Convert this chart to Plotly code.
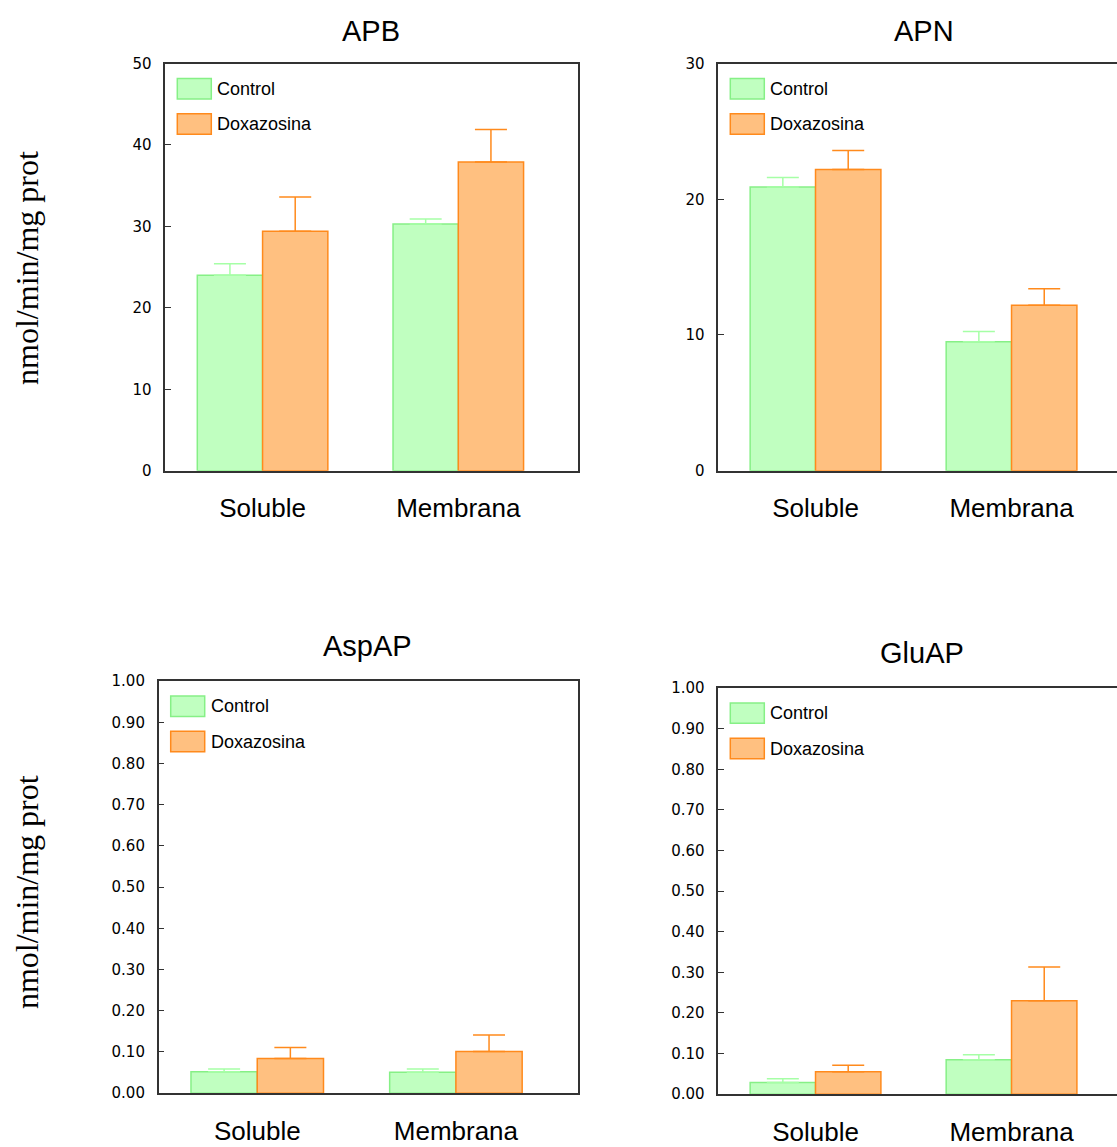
import plotly.graph_objects as go

W, H = 1117, 1147

# ---------------- data ----------------
categories = ["Soluble", "Membrana"]
series_names = ["Control", "Doxazosina"]
panel_titles = ["APB", "APN", "AspAP", "GluAP"]
y_label = "nmol/min/mg prot"

apb_control = [24.0, 30.3]
apb_control_err = [1.4, 0.6]
apb_doxa = [29.4, 37.9]
apb_doxa_err = [4.2, 4.0]

apn_control = [20.9, 9.5]
apn_control_err = [0.7, 0.75]
apn_doxa = [22.2, 12.2]
apn_doxa_err = [1.4, 1.2]

aspap_control = [0.052, 0.051]
aspap_control_err = [0.007, 0.008]
aspap_doxa = [0.084, 0.101]
aspap_doxa_err = [0.027, 0.040]

gluap_control = [0.029, 0.085]
gluap_control_err = [0.009, 0.012]
gluap_doxa = [0.055, 0.230]
gluap_doxa_err = [0.016, 0.083]

# ---------------- styles ----------------
GREEN_FILL = "#C0FFC0"
GREEN_LINE = "#86F086"
GREEN_ERR = "#A6FFA6"
ORANGE_FILL = "#FFC080"
ORANGE_LINE = "#FF8A1C"
ORANGE_ERR = "#FF8A1C"
FRAME = "#333333"

SANS = "Liberation Sans, Arial, sans-serif"
TICKFONT = "DejaVu Sans, sans-serif"
SERIF = "Liberation Serif, Times New Roman, serif"

# vertical calibration of the viewer (page top offset / scale observed in the capture)
VIEW_Y_OFF = 7.9
VIEW_Y_SCALE = 0.9835

def fx(px):
    return px / W

def fy(py):
    py_adj = (py - VIEW_Y_OFF) / VIEW_Y_SCALE
    return 1 - py_adj / H

panels = [
    dict(data=(apb_control, apb_control_err, apb_doxa, apb_doxa_err),
         frame=(165.3, 62.7, 577.7, 471.7), xr=[-0.497, 1.61], yr=[0, 50], dtick=10, fmt="d",
         closed=True, title_pos=(371, 30), standoff=13),
    dict(data=(apn_control, apn_control_err, apn_doxa, apn_doxa_err),
         frame=(718.3, 62.7, 1117, 471.7), xr=[-0.496, 1.538], yr=[0, 30], dtick=10, fmt="d",
         closed=False, title_pos=(924, 30), standoff=13),
    dict(data=(aspap_control, aspap_control_err, aspap_doxa, aspap_doxa_err),
         frame=(158.7, 683, 577.7, 1097), xr=[-0.496, 1.613], yr=[0, 1.0], dtick=0.1, fmt=".2f",
         closed=True, title_pos=(367, 648), standoff=14),
    dict(data=(gluap_control, gluap_control_err, gluap_doxa, gluap_doxa_err),
         frame=(718.3, 690, 1117, 1098), xr=[-0.496, 1.538], yr=[0, 1.0], dtick=0.1, fmt=".2f",
         closed=False, title_pos=(922, 655), standoff=14),
]

fig = go.Figure()
shapes = []
annotations = []

for i, p in enumerate(panels):
    n = "" if i == 0 else str(i + 1)
    xa, ya = "x" + n, "y" + n
    ctrl, ctrl_e, doxa, doxa_e = p["data"]
    fig.add_trace(go.Bar(
        x=categories, y=ctrl, name=series_names[0], xaxis=xa, yaxis=ya,
        offsetgroup="c", showlegend=False,
        marker=dict(color=GREEN_FILL, line=dict(color=GREEN_LINE, width=1.5)),
        error_y=dict(type="data", array=ctrl_e, arrayminus=[0] * len(ctrl_e), symmetric=False,
                     color=GREEN_ERR, thickness=1.5, width=16),
    ))
    fig.add_trace(go.Bar(
        x=categories, y=doxa, name=series_names[1], xaxis=xa, yaxis=ya,
        offsetgroup="d", showlegend=False,
        marker=dict(color=ORANGE_FILL, line=dict(color=ORANGE_LINE, width=1.5)),
        error_y=dict(type="data", array=doxa_e, arrayminus=[0] * len(doxa_e), symmetric=False,
                     color=ORANGE_ERR, thickness=1.5, width=16),
    ))
    L, T, R, B = p["frame"]
    fig.layout["xaxis" + n] = dict(
        domain=[fx(L), fx(R)], anchor=ya, range=p["xr"], type="category",
        showline=True, linecolor=FRAME, linewidth=1.5, mirror=True,
        ticks="", showgrid=False, zeroline=False, fixedrange=True,
        tickfont=dict(family=SANS, size=26, color="black"), ticklabelstandoff=p["standoff"],
    )
    fig.layout["yaxis" + n] = dict(
        domain=[fy(B), fy(T)], anchor=xa, range=p["yr"], dtick=p["dtick"], tickformat=p["fmt"],
        showline=True, linecolor=FRAME, linewidth=1.5, mirror=p["closed"],
        ticks="inside", ticklen=6, tickwidth=1, tickcolor=FRAME,
        showgrid=False, zeroline=False, fixedrange=True,
        tickfont=dict(family=TICKFONT, size=15, color="black"), ticklabelstandoff=9,
    )
    tx, ty = p["title_pos"]
    annotations.append(dict(text=panel_titles[i], x=fx(tx), y=fy(ty), xref="paper", yref="paper",
                            showarrow=False, xanchor="center", yanchor="middle",
                            font=dict(family=SANS, size=29, color="black")))
    for k, (fill, line) in enumerate([(GREEN_FILL, GREEN_LINE), (ORANGE_FILL, ORANGE_LINE)]):
        top = T + 15 + k * 35.5
        shapes.append(dict(type="rect", xref="paper", yref="paper",
                           x0=fx(L + 12), x1=fx(L + 46), y0=fy(top + 20.5), y1=fy(top),
                           fillcolor=fill, line=dict(color=line, width=1.5)))
        annotations.append(dict(text=series_names[k], x=fx(L + 50), y=fy(top + 10.5),
                                xref="paper", yref="paper", showarrow=False,
                                xanchor="left", yanchor="middle",
                                font=dict(family=SANS, size=18, color="black")))

for cy in (268, 895):
    annotations.append(dict(text=y_label, x=fx(27), y=fy(cy), xref="paper", yref="paper",
                            showarrow=False, textangle=-90, xanchor="center", yanchor="middle",
                            font=dict(family=SERIF, size=32, color="black")))

fig.update_layout(
    width=W, height=H, margin=dict(l=0, r=0, t=0, b=0),
    paper_bgcolor="white", plot_bgcolor="white",
    barmode="group", bargap=0.333, bargroupgap=0,
    showlegend=False, shapes=shapes, annotations=annotations,
)

fig.write_html(
    "out.html",
    config={"displayModeBar": False},
    post_script=(
        "var gd=document.getElementById('{plot_id}');"
        "gd.style.position='fixed';gd.style.top='0px';gd.style.left='0px';"
        "document.documentElement.style.margin='0';document.documentElement.style.padding='0';"
        "document.body.style.margin='0';document.body.style.padding='0';"
        "document.documentElement.style.overflow='hidden';document.body.style.overflow='hidden';"
    ),
)
